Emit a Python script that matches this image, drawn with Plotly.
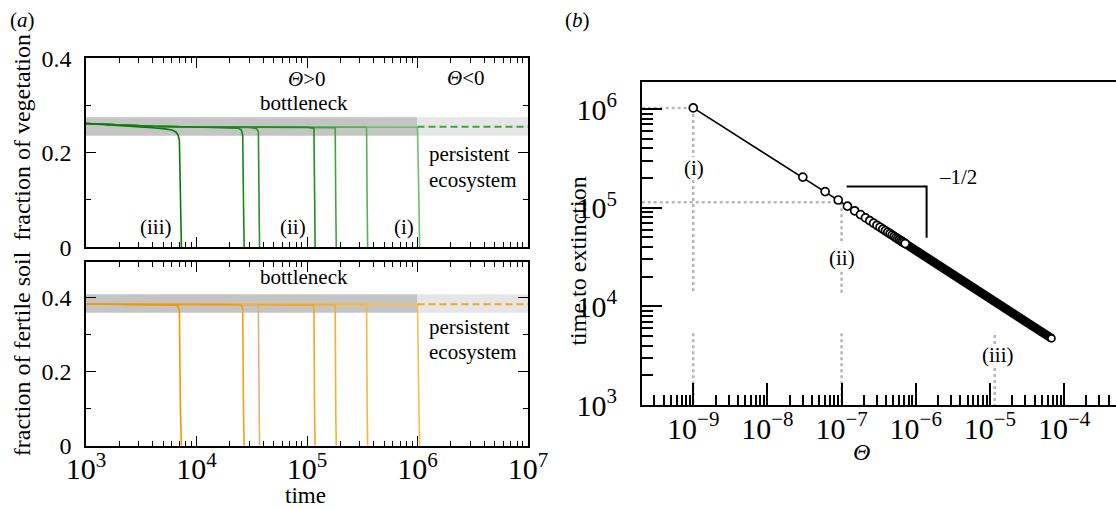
import plotly.graph_objects as go

W, H = 1116, 509

def px(x, y):
    return x / W, 1 - y / H

# ---------------- panel (a) data ----------------
t1 = [1e3, 2e3, 3e3, 4e3, 5e3, 6e3, 6.5e3, 6.8e3, 7.0e3, 7.15e3, 7.3e3]
veg1 = [0.262, 0.258, 0.255, 0.253, 0.251, 0.248, 0.244, 0.238, 0.226, 0.10, 0.0]
soil1 = [0.383, 0.382, 0.382, 0.382, 0.381, 0.381, 0.380, 0.377, 0.365, 0.10, 0.0]

t2 = [1e3, 2e3, 4e3, 1e4, 2e4, 2.4e4, 2.55e4, 2.62e4, 2.66e4, 2.7e4]
veg2 = [0.262, 0.259, 0.256, 0.2545, 0.2535, 0.252, 0.248, 0.236, 0.10, 0.0]
soil2 = [0.383, 0.382, 0.382, 0.382, 0.382, 0.381, 0.379, 0.370, 0.10, 0.0]

t3 = [1e3, 2e3, 4e3, 1e4, 3e4, 3.5e4, 3.63e4, 3.68e4, 3.72e4]
veg3 = [0.262, 0.259, 0.256, 0.2545, 0.2535, 0.251, 0.244, 0.10, 0.0]
soil3 = [0.383, 0.382, 0.382, 0.382, 0.382, 0.381, 0.376, 0.10, 0.0]

t4 = [1e3, 2e3, 4e3, 1e4, 1e5, 1.155e5, 1.17e5, 1.185e5]
veg4 = [0.262, 0.259, 0.256, 0.2545, 0.254, 0.252, 0.10, 0.0]
soil4 = [0.383, 0.382, 0.382, 0.382, 0.382, 0.380, 0.10, 0.0]

t5 = [1e3, 2e3, 4e3, 1e4, 1e5, 1.8e5, 1.82e5, 1.84e5]
veg5 = [0.262, 0.259, 0.256, 0.2545, 0.254, 0.253, 0.10, 0.0]
soil5 = [0.383, 0.382, 0.382, 0.382, 0.382, 0.381, 0.10, 0.0]

t6 = [1e3, 2e3, 4e3, 1e4, 1e5, 3.46e5, 3.5e5, 3.54e5]
veg6 = [0.262, 0.259, 0.256, 0.2545, 0.254, 0.254, 0.10, 0.0]
soil6 = [0.383, 0.382, 0.382, 0.382, 0.382, 0.382, 0.10, 0.0]

t7 = [1e3, 2e3, 4e3, 1e4, 1e5, 1.0e6, 1.03e6, 1.045e6]
veg7 = [0.262, 0.259, 0.256, 0.2545, 0.254, 0.254, 0.10, 0.0]
soil7 = [0.383, 0.382, 0.382, 0.382, 0.382, 0.382, 0.10, 0.0]

t_persist = [1e6, 1e7]
veg_persist = [0.255, 0.255]
soil_persist = [0.382, 0.382]

band_t_bottleneck = [1e3, 1e6]
band_t_persist = [1e6, 1e7]
band_veg = [0.236, 0.275]
band_soil = [0.359, 0.409]

veg_colors = ["#0b780b", "#178417", "#2a8f2a", "#1f8f1f", "#3fa43f", "#55b155", "#6cc06c"]
soil_colors = ["#f09800", "#f2a010", "#e3b27a", "#f5a623", "#f7ad2e", "#f9b53c", "#fbbd4c"]

# ---------------- panel (b) data ----------------
theta_pts = [1e-9, 3e-8, 6e-8, 9e-8, 1.2e-7, 1.5e-7, 1.8e-7, 2.1e-7, 2.4e-7, 2.7e-7,
             3.0e-7, 3.3e-7, 3.6e-7, 3.9e-7, 4.2e-7, 4.5e-7, 4.8e-7, 5.1e-7, 5.4e-7,
             5.7e-7, 6.0e-7, 6.3e-7, 6.6e-7, 6.9e-7, 7.2e-7]
T_pts = [1.03e6, 2.05e5, 1.46e5, 1.20e5, 1.04e5, 9.33e4, 8.54e4, 7.91e4, 7.41e4, 7.0e4,
         6.65e4, 6.35e4, 6.08e4, 5.85e4, 5.65e4, 5.46e4, 5.29e4, 5.13e4, 4.99e4,
         4.86e4, 4.74e4, 4.63e4, 4.53e4, 4.43e4, 4.34e4]
theta_dense = [7.2e-7, 6.76e-5]
T_dense = [4.34e4, 4.75e3]
theta_last = [6.76e-5]
T_last = [4.75e3]

guide_theta = [1e-9, 1e-7, 1.16e-5]
guide_T = [1.03e6, 1.14e5]
theta_axis_min = 2.02e-10
T_axis_min = 1e3

slope_theta = [1.17e-7, 1.40e-6, 1.40e-6]
slope_T = [1.64e5, 1.64e5, 4.98e4]

fig = go.Figure()

# ---- bands ----
def band(xs, ys, color, xa, ya):
    fig.add_trace(go.Scatter(x=[xs[0], xs[1], xs[1], xs[0], xs[0]],
                             y=[ys[0], ys[0], ys[1], ys[1], ys[0]],
                             fill="toself", fillcolor=color, line=dict(width=0),
                             mode="lines", xaxis=xa, yaxis=ya, hoverinfo="skip",
                             showlegend=False))

band(band_t_bottleneck, band_veg, "#c4c4c4", "x", "y")
band(band_t_persist, band_veg, "#e6e6e6", "x", "y")
band(band_t_bottleneck, band_soil, "#c4c4c4", "x2", "y2")
band(band_t_persist, band_soil, "#e6e6e6", "x2", "y2")

curves = [(t1, veg1, soil1), (t2, veg2, soil2), (t3, veg3, soil3), (t4, veg4, soil4),
          (t5, veg5, soil5), (t6, veg6, soil6), (t7, veg7, soil7)]
for i in reversed(range(len(curves))):
    tt, vv, ss = curves[i]
    fig.add_trace(go.Scatter(x=tt, y=vv, mode="lines", line=dict(color=veg_colors[i], width=1.6),
                             xaxis="x", yaxis="y", hoverinfo="skip", showlegend=False))
    fig.add_trace(go.Scatter(x=tt, y=ss, mode="lines", line=dict(color=soil_colors[i], width=1.6),
                             xaxis="x2", yaxis="y2", hoverinfo="skip", showlegend=False))

fig.add_trace(go.Scatter(x=t_persist, y=veg_persist, mode="lines",
                         line=dict(color="#3da63d", width=2, dash="7px,4px"),
                         xaxis="x", yaxis="y", hoverinfo="skip", showlegend=False))
fig.add_trace(go.Scatter(x=t_persist, y=soil_persist, mode="lines",
                         line=dict(color="#f5a623", width=2, dash="7px,4px"),
                         xaxis="x2", yaxis="y2", hoverinfo="skip", showlegend=False))

# ---- panel (b) guides ----
N = None
dot_x = [theta_axis_min, guide_theta[0], N,
         guide_theta[0], guide_theta[0], N, guide_theta[0], guide_theta[0], N, guide_theta[0], guide_theta[0], N,
         theta_axis_min, guide_theta[1], N,
         guide_theta[1], guide_theta[1], N, guide_theta[1], guide_theta[1], N, guide_theta[1], guide_theta[1], N,
         guide_theta[2], guide_theta[2], N, guide_theta[2], guide_theta[2]]
dot_y = [guide_T[0], guide_T[0], N,
         guide_T[0], 3.25e5, N, 1.91e5, 1.36e4, N, 5.33e3, T_axis_min, N,
         guide_T[1], guide_T[1], N,
         guide_T[1], 4.4e4, N, 2.25e4, 1.36e4, N, 5.33e3, T_axis_min, N,
         5.13e3, 3.87e3, N, 2.37e3, T_axis_min]
fig.add_trace(go.Scatter(x=dot_x, y=dot_y, mode="lines", connectgaps=False,
                         line=dict(color="#b8b8b8", width=2.6, dash="3px,3px"),
                         xaxis="x3", yaxis="y3", hoverinfo="skip", showlegend=False))

fig.add_trace(go.Scatter(x=slope_theta, y=slope_T, mode="lines",
                         line=dict(color="black", width=2),
                         xaxis="x3", yaxis="y3", hoverinfo="skip", showlegend=False))

fig.add_trace(go.Scatter(x=theta_pts, y=T_pts, mode="lines",
                         line=dict(color="black", width=1.6),
                         xaxis="x3", yaxis="y3", hoverinfo="skip", showlegend=False))
fig.add_trace(go.Scatter(x=theta_dense, y=T_dense, mode="lines",
                         line=dict(color="black", width=9),
                         xaxis="x3", yaxis="y3", hoverinfo="skip", showlegend=False))
fig.add_trace(go.Scatter(x=theta_pts, y=T_pts, mode="markers",
                         marker=dict(symbol="circle", size=8, color="white",
                                     line=dict(color="black", width=1.7)),
                         xaxis="x3", yaxis="y3", hoverinfo="skip", showlegend=False))
fig.add_trace(go.Scatter(x=theta_last, y=T_last, mode="markers",
                         marker=dict(symbol="circle", size=7, color="white",
                                     line=dict(color="black", width=1.7)),
                         xaxis="x3", yaxis="y3", hoverinfo="skip", showlegend=False))

FONT = "Liberation Serif, Times New Roman, serif"
TICKF = dict(family=FONT, size=24, color="black")

ax_a = dict(type="log", range=[3, 7], dtick=1, ticks="inside", ticklen=10, tickwidth=1.3,
            tickcolor="black", showline=True, linecolor="black", linewidth=1.6,
            mirror="allticks", showgrid=False, zeroline=False, exponentformat="power",
            tickfont=TICKF, ticklabelstandoff=-3, automargin=False,
            minor=dict(ticks="inside", ticklen=5, tickwidth=1.2, tickcolor="black",
                       dtick="D1", showgrid=False))
ay_a = dict(ticks="inside", ticklen=10, tickwidth=1.3, tickcolor="black", showline=True,
            linecolor="black", linewidth=1.6, mirror="allticks", showgrid=False,
            zeroline=False, dtick=0.2, tickfont=TICKF, ticklabelstandoff=8, automargin=False,
            minor=dict(ticks="inside", ticklen=5, tickwidth=1.2, tickcolor="black",
                       dtick=0.1, showgrid=False))

xd_a = [86 / W, 528 / W]

fig.update_layout(
    template="none",
    width=W, height=H, margin=dict(l=0, r=0, t=0, b=0, pad=0, autoexpand=False),
    paper_bgcolor="white", plot_bgcolor="white", showlegend=False,
    font=dict(family=FONT, size=21, color="black"),
    xaxis=dict(ax_a, domain=xd_a, anchor="y", showticklabels=False),
    yaxis=dict(ay_a, domain=[1 - 247.1 / H, 1 - 58.3 / H], range=[0, 0.4], anchor="x"),
    xaxis2=dict(ax_a, domain=xd_a, anchor="y2"),
    yaxis2=dict(ay_a, domain=[1 - 445.7 / H, 1 - 261.7 / H], range=[0, 0.4973], anchor="x2"),
    xaxis3=dict(type="log", range=[-9.695, -3.30], dtick=1, domain=[641.7 / W, 1.0],
                anchor="y3", ticks="inside", ticklen=22, tickwidth=2, tickcolor="black",
                showline=True, linecolor="black", linewidth=2, mirror=True,
                showgrid=False, zeroline=False, exponentformat="power", tickfont=TICKF,
                ticklabelstandoff=-3, automargin=False,
                minor=dict(ticks="inside", ticklen=10, tickwidth=1.6, tickcolor="black",
                           dtick="D1", showgrid=False)),
    yaxis3=dict(type="log", range=[3, 6.279], dtick=1, domain=[1 - 405 / H, 1 - 81.7 / H],
                anchor="x3", ticks="inside", ticklen=20, tickwidth=2.2, tickcolor="black",
                showline=True, linecolor="black", linewidth=2, showgrid=False,
                zeroline=False, exponentformat="power", tickfont=TICKF,
                ticklabelstandoff=18, automargin=False,
                minor=dict(ticks="inside", ticklen=11, tickwidth=2.2, tickcolor="black",
                           dtick="D1", showgrid=False)),
)

def ann(text, x, y, size=21, angle=0, xanchor="center", yanchor="middle"):
    xx, yy = px(x, y)
    fig.add_annotation(text=text, x=xx, y=yy, xref="paper", yref="paper",
                       showarrow=False, xanchor=xanchor, yanchor=yanchor,
                       textangle=angle, borderpad=0,
                       font=dict(family=FONT, size=size, color="black"))

ann("(<i>a</i>)", 22, 20)
ann("(<i>b</i>)", 578, 20)
ann("<i>Θ</i>&gt;0", 307, 78.5)
ann("<i>Θ</i>&lt;0", 465.7, 78.3)
ann("bottleneck", 304, 102.7)
ann("bottleneck", 304, 277)
ann("persistent", 427.7, 154.4, xanchor="left")
ann("ecosystem", 427.7, 179.6, xanchor="left")
ann("persistent", 427.7, 327.1, xanchor="left")
ann("ecosystem", 427.7, 352.3, xanchor="left")
ann("(iii)", 155.8, 226.8)
ann("(ii)", 293, 226.8)
ann("(i)", 403.5, 226.8)
ann("time", 305.3, 508.5, size=23, yanchor="bottom")
ann("fraction of vegetation", 21.7, 137, size=24, angle=-90)
ann("fraction of fertile soil", 21.7, 353.5, size=24, angle=-90)

ann("(i)", 694, 168.3)
ann("(ii)", 841.7, 258.3)
ann("(iii)", 998, 355)
ann("–1/2", 958, 176.7)
ann("<i>Θ</i>", 861.6, 451.7, size=24)
ann("time to extinction", 577.6, 261, size=24, angle=-90)

fig.write_html("out.html", config={"displayModeBar": False},
               post_script="document.body.style.margin='0';document.body.style.padding='0';")
